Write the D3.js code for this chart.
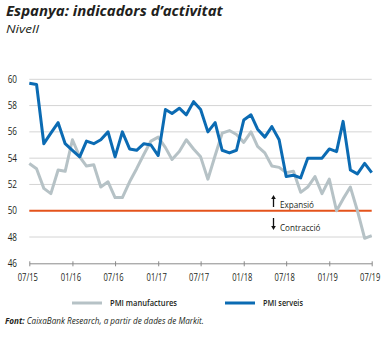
<!DOCTYPE html>
<html><head><meta charset="utf-8">
<script src="https://cdn.jsdelivr.net/npm/d3@7"></script>
<style>
html,body{margin:0;padding:0;background:#fff;}
svg{display:block;font-family:"Open Sans",sans-serif;}
</style></head>
<body>
<svg id="c" width="388" height="338"></svg>
<script>
const startMonth = new Date(2015, 6, 1);
const endMonth = new Date(2019, 6, 1);
const months = d3.timeMonths(startMonth, new Date(2019, 7, 1));
const manufactures = [
  53.6, 53.2, 51.7, 51.3, 53.1, 53.0,
  55.4, 54.1, 53.4, 53.5, 51.8, 52.2, 51.0, 51.0, 52.2, 53.2, 54.3, 55.3,
  55.6, 54.8, 53.9, 54.5, 55.4, 54.7, 54.1, 52.4, 54.2, 55.9, 56.1, 55.8,
  55.2, 56.0, 54.9, 54.4, 53.4, 53.3, 52.9, 53.0, 51.4, 51.8, 52.6, 51.3,
  52.4, 50.0, 50.9, 51.8, 50.0, 47.9, 48.1
];
const serveis = [
  59.7, 59.6, 55.1, 55.9, 56.7, 55.1,
  54.6, 54.1, 55.3, 55.1, 55.4, 56.0, 54.1, 56.0, 54.7, 54.6, 55.1, 55.0,
  54.2, 57.7, 57.4, 57.8, 57.3, 58.3, 57.7, 56.0, 56.7, 54.6, 54.4, 54.6,
  56.9, 57.3, 56.2, 55.6, 56.4, 55.4, 52.6, 52.7, 52.5, 54.0, 54.0, 54.0,
  54.7, 54.5, 56.8, 53.1, 52.8, 53.6, 52.9
];
const yTicks = [46, 48, 50, 52, 54, 56, 58, 60];
const xTickLabels = ["07/15","01/16","07/16","01/17","07/17","01/18","07/18","01/19","07/19"];
const threshold = 50;
const seriesNames = ["PMI manufactures", "PMI serveis"];
const title = "Espanya: indicadors d\u2019activitat";
const subtitle = "Nivell";
const sourceLabel = "Font:";
const sourceText = " CaixaBank Research, a partir de dades de Markit.";

const colGray = "#b6c2c6", colBlue = "#0b6bb3", colRed = "#e4531c", txt = "#231f20";

const svg = d3.select("#c");
const x = d3.scaleTime().domain([startMonth, endMonth]).range([29.3, 371.7]);
const y = d3.scaleLinear().domain([46, 60]).range([263.3, 79.3]);

function fit(sel, target) {
  const n = sel.node();
  const w = n.getComputedTextLength();
  const k = target / w;
  const ax = +sel.attr("data-x"), ay = +sel.attr("data-y");
  sel.attr("x", 0).attr("y", 0).attr("transform", `translate(${ax},${ay}) scale(${k},1)`);
}
function label(g, t, ax, ay, opts) {
  const s = g.append("text").attr("data-x", ax).attr("data-y", ay)
    .attr("font-size", opts.size).attr("fill", opts.fill || txt)
    .attr("font-style", opts.style || "normal").attr("font-weight", opts.weight || 400)
    .attr("text-anchor", opts.anchor || "start").text(t);
  return s;
}

// gridlines
svg.append("g").selectAll("line").data(yTicks.filter(v => v !== 46 && v !== threshold)).join("line")
  .attr("x1", x.range()[0]).attr("x2", x.range()[1])
  .attr("y1", d => y(d)).attr("y2", d => y(d))
  .attr("stroke", "#d4d4d4").attr("stroke-width", 1);

// y labels
const yl = svg.append("g");
yTicks.forEach(v => {
  const t = label(yl, String(v), 17, y(v) + 3.5, {size: 10, anchor: "end"});
  const w = t.node().getComputedTextLength();
  fit(t, w * 0.82);
});

// x axis
const xAxis = svg.append("g").attr("transform", `translate(0,${y(46)})`)
  .call(d3.axisBottom(x).tickValues(d3.timeMonths(startMonth, d3.timeMonth.offset(endMonth, 1), 6)).tickSize(3).tickSizeOuter(0).tickFormat(() => ""));
xAxis.select(".domain").attr("stroke", "#8a8a8a");
xAxis.selectAll(".tick line").attr("stroke", "#8a8a8a").attr("y1", -2);
const xl = svg.append("g");
d3.timeMonths(startMonth, d3.timeMonth.offset(endMonth, 1), 6).forEach((d, i) => {
  const t = label(xl, xTickLabels[i], x(d) - 1.5, 281, {size: 10, anchor: "middle"});
  const w = t.node().getComputedTextLength();
  fit(t, w * 0.76);
});

// threshold line
svg.append("line").attr("x1", x.range()[0]).attr("x2", x.range()[1])
  .attr("y1", y(threshold)).attr("y2", y(threshold))
  .attr("stroke", colRed).attr("stroke-width", 2);

// lines
const line = d3.line().x((d, i) => x(months[i])).y(d => y(d));
svg.append("path").datum(manufactures).attr("d", line).attr("fill", "none")
  .attr("stroke", colGray).attr("stroke-width", 3).attr("stroke-linejoin", "round");
svg.append("path").datum(serveis).attr("d", line).attr("fill", "none")
  .attr("stroke", colBlue).attr("stroke-width", 3).attr("stroke-linejoin", "round");

// annotations
const an = svg.append("g");
function arrow(xx, y1, y2) {
  const dir = y2 > y1 ? 1 : -1;
  an.append("line").attr("x1", xx).attr("x2", xx).attr("y1", y1).attr("y2", y2 - dir * 3)
    .attr("stroke", "#111").attr("stroke-width", 1.3);
  an.append("path").attr("d", `M${xx - 2.3},${y2 - dir * 4}L${xx + 2.3},${y2 - dir * 4}L${xx},${y2}Z`).attr("fill", "#111");
}
arrow(273.5, 207, 195);
arrow(273.5, 218, 230);
fit(label(an, "Expansi\u00f3", 280, 207.5, {size: 9}), 34);
fit(label(an, "Contracci\u00f3", 280, 231, {size: 9}), 40.5);

// titles
fit(label(svg, title, 6, 15.5, {size: 15, style: "italic", weight: 700}), 217);
fit(label(svg, subtitle, 6, 33, {size: 11, style: "italic"}), 33);

// legend
const lg = svg.append("g");
lg.append("line").attr("x1", 72).attr("x2", 102).attr("y1", 303).attr("y2", 303).attr("stroke", colGray).attr("stroke-width", 3);
lg.append("line").attr("x1", 225).attr("x2", 255).attr("y1", 303).attr("y2", 303).attr("stroke", colBlue).attr("stroke-width", 3);
fit(label(lg, seriesNames[0], 110, 306.3, {size: 9, weight: 600}), 67);
fit(label(lg, seriesNames[1], 263, 306.3, {size: 9, weight: 600}), 40);

// source
const src = svg.append("text").attr("data-x", 5).attr("data-y", 324).attr("font-size", 9).attr("font-style", "italic").attr("fill", txt);
src.append("tspan").attr("font-weight", 700).text(sourceLabel);
src.append("tspan").text(sourceText);
fit(src, 199);
</script>
</body></html>
